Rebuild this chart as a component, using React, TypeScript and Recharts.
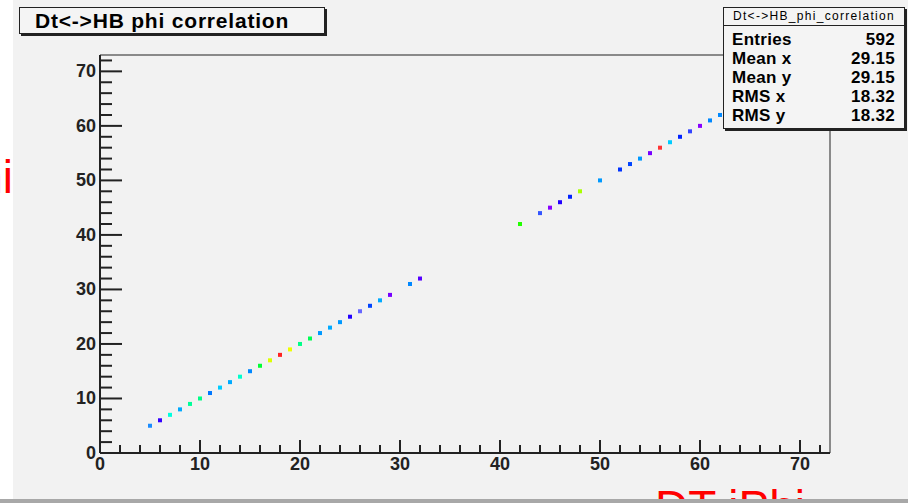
import { ScatterChart, Scatter, XAxis, YAxis, ReferenceArea, Cell } from 'recharts';

// DT phi vs HB phi, one entry per filled bin
const phiDT = [5, 6, 7, 8, 9, 10, 11, 12, 13, 14, 15, 16, 17, 18, 19, 20, 21, 22, 23, 24, 25, 26, 27, 28, 29, 31, 32,
  42, 44, 45, 46, 47, 48, 50, 52, 53, 54, 55, 56, 57, 58, 59, 60, 61, 62];
const phiHB = [5, 6, 7, 8, 9, 10, 11, 12, 13, 14, 15, 16, 17, 18, 19, 20, 21, 22, 23, 24, 25, 26, 27, 28, 29, 31, 32,
  42, 44, 45, 46, 47, 48, 50, 52, 53, 54, 55, 56, 57, 58, 59, 60, 61, 62];
const binColors = [
  '#1a8cff', '#3300ff', '#00ffdd', '#00aaff', '#00ff99', '#00ff88', '#0077ff', '#00ccff', '#00aaff', '#00ffcc',
  '#0088ff', '#00ff33', '#ddff00', '#ff2222', '#eeff00', '#00ff88', '#00ff55', '#0099ff', '#00aaff', '#0099ff',
  '#2200ff', '#6666ff', '#0044ff', '#00aaff', '#7700ff', '#0088ff', '#5500ff',
  '#22ff00', '#3355ff', '#8800ff', '#2200ff', '#0022ff', '#aaff00', '#0099ff', '#0033ff', '#0044ff', '#0099ff',
  '#7700ff', '#ff3333', '#00ccff', '#0022ff', '#3344ff', '#8800ff', '#0088ff', '#0088ff',
];
const axisTicks = [0, 2, 4, 6, 8, 10, 12, 14, 16, 18, 20, 22, 24, 26, 28, 30, 32, 34, 36, 38, 40, 42, 44, 46, 48, 50,
  52, 54, 56, 58, 60, 62, 64, 66, 68, 70, 72];

const statRows = [
  ['Entries', '592'],
  ['Mean x', '29.15'],
  ['Mean y', '29.15'],
  ['RMS x', '18.32'],
  ['RMS y', '18.32'],
];

const points = phiDT.map((x, i) => ({ x, y: phiHB[i] }));

const font = '"Liberation Sans", Arial, sans-serif';
const ink = '#222';

const XTick = (props: any) => {
  const { x, y, payload } = props;
  const major = payload.value % 10 === 0;
  return (
    <g>
      <line x1={x} y1={y} x2={x} y2={y - (major ? 13 : 8)} stroke={ink} strokeWidth={2} />
      {major && (
        <text x={x} y={y + 17} textAnchor="middle" fontFamily={font} fontWeight="bold" fontSize={18} fill={ink}>
          {payload.value}
        </text>
      )}
    </g>
  );
};

const YTick = (props: any) => {
  const { x, y, payload } = props;
  const major = payload.value % 10 === 0;
  return (
    <g>
      <line x1={x} y1={y} x2={x + (major ? 22 : 12)} y2={y} stroke={ink} strokeWidth={2} />
      {major && (
        <text x={x - 4} y={y + 6} textAnchor="end" fontFamily={font} fontWeight="bold" fontSize={18} fill={ink}>
          {payload.value}
        </text>
      )}
    </g>
  );
};

const BinBox = (props: any) => (
  <rect x={props.cx - 2} y={props.cy - 2} width={4} height={4} fill={props.fill} />
);

export default function App() {
  return (
    <div style={{ position: 'absolute', left: 0, top: 0, width: 908, height: 503, overflow: 'hidden', background: '#f2f2f2', fontFamily: font }}>
      <ScatterChart width={908} height={503} margin={{ top: 55, right: 78, bottom: 0, left: 0 }}>
        <XAxis
          type="number"
          dataKey="x"
          domain={[0, 73]}
          ticks={axisTicks}
          interval={0}
          height={50}
          tickSize={0}
          tickMargin={0}
          tickLine={false}
          axisLine={{ stroke: ink, strokeWidth: 2 }}
          tick={<XTick />}
        />
        <YAxis
          type="number"
          dataKey="y"
          domain={[0, 73]}
          ticks={axisTicks}
          interval={0}
          width={100}
          tickSize={0}
          tickMargin={0}
          tickLine={false}
          axisLine={{ stroke: ink, strokeWidth: 2 }}
          tick={<YTick />}
        />
        <ReferenceArea x1={0} x2={73} y1={0} y2={73} fill="none" stroke={ink} strokeWidth={1} />
        <Scatter data={points} shape={<BinBox />} isAnimationActive={false}>
          {points.map((p, i) => (
            <Cell key={i} fill={binColors[i]} />
          ))}
        </Scatter>
      </ScatterChart>

      {/* title box */}
      <div style={{ position: 'absolute', left: 19, top: 7, width: 289, height: 25, border: `1px solid ${ink}`, boxShadow: `2px 2px 0 ${ink}`, background: '#f4f4f4', fontWeight: 'bold', fontSize: 21, letterSpacing: 0.8, lineHeight: '25px', paddingLeft: 15, boxSizing: 'content-box', whiteSpace: 'nowrap' }}>
        Dt&lt;-&gt;HB phi correlation
      </div>

      {/* stats box */}
      <div style={{ position: 'absolute', left: 723, top: 7, width: 180, height: 120, border: `1px solid ${ink}`, boxShadow: `2px 2px 0 ${ink}`, background: '#f4f4f4' }}>
        <div style={{ height: 17, borderBottom: `1px solid ${ink}`, fontSize: 12, letterSpacing: 1.3, textAlign: 'center', lineHeight: '17px', whiteSpace: 'nowrap' }}>
          Dt&lt;-&gt;HB_phi_correlation
        </div>
        <div style={{ paddingTop: 4 }}>
          {statRows.map(([k, v]) => (
            <div key={k} style={{ display: 'flex', justifyContent: 'space-between', height: 19, lineHeight: '19px', fontSize: 17, fontWeight: 'bold', letterSpacing: 0.3, padding: '0 9px 0 8px' }}>
              <span>{k}</span>
              <span>{v}</span>
            </div>
          ))}
        </div>
      </div>

      {/* cut-off axis titles */}
      <div style={{ position: 'absolute', left: 0, top: 0, width: 13, height: 503, background: '#fff' }} />
      <div style={{ position: 'absolute', left: -300, top: 154, width: 313, textAlign: 'right', fontSize: 46, lineHeight: 1, color: '#ff0000', whiteSpace: 'nowrap' }}>
        HB iPhi
      </div>
      <div style={{ position: 'absolute', left: 655, top: 484, fontSize: 46, lineHeight: 1, color: '#ff0000', whiteSpace: 'nowrap' }}>
        DT iPhi
      </div>
      <div style={{ position: 'absolute', left: 0, top: 499, width: 908, height: 4, background: '#a8a8a8' }} />
    </div>
  );
}
